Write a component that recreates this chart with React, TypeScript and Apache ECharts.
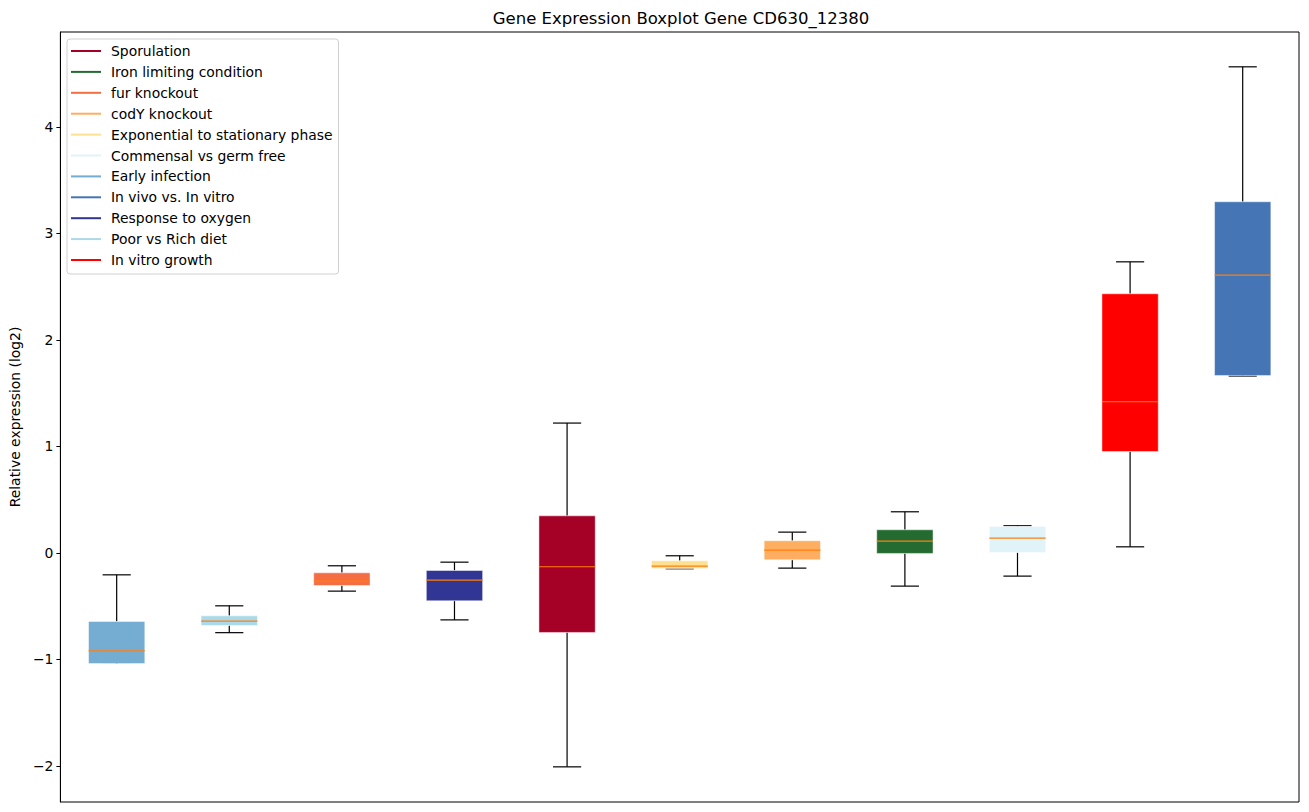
import React, { useEffect, useRef } from "react";
import * as echarts from "echarts";

// Boxes in x order (left to right)
const categories = [
  "Early infection",
  "Poor vs Rich diet",
  "fur knockout",
  "Response to oxygen",
  "Sporulation",
  "Exponential to stationary phase",
  "codY knockout",
  "Iron limiting condition",
  "Commensal vs germ free",
  "In vitro growth",
  "In vivo vs. In vitro",
];
// [lower whisker, Q1, median, Q3, upper whisker]
const lowWhisker = [-1.03, -0.75, -0.36, -0.63, -2.01, -0.15, -0.144, -0.313, -0.219, 0.056, 1.66];
const q1 = [-1.04, -0.682, -0.307, -0.451, -0.748, -0.147, -0.066, -0.006, 0.003, 0.951, 1.665];
const medians = [-0.92, -0.641, -0.266, -0.257, -0.131, -0.125, 0.025, 0.11, 0.138, 1.418, 2.607];
const q3 = [-0.645, -0.592, -0.188, -0.166, 0.347, -0.075, 0.113, 0.216, 0.247, 2.432, 3.296];
const highWhisker = [-0.207, -0.498, -0.122, -0.088, 1.218, -0.028, 0.194, 0.385, 0.254, 2.732, 4.563];
const boxColors = [
  "#74add1", "#abd9e9", "#f46d43", "#313695", "#a50026", "#fee090",
  "#fdae61", "#236b30", "#e0f3f8", "#ff0000", "#4575b4",
];
const legendOrder = [
  "Sporulation",
  "Iron limiting condition",
  "fur knockout",
  "codY knockout",
  "Exponential to stationary phase",
  "Commensal vs germ free",
  "Early infection",
  "In vivo vs. In vitro",
  "Response to oxygen",
  "Poor vs Rich diet",
  "In vitro growth",
];
const yTicks = [-2, -1, 0, 1, 2, 3, 4];

const FONT = "DejaVu Sans";

export default function App() {
  const ref = useRef<HTMLDivElement>(null);
  useEffect(() => {
    document.body.style.margin = "0";
    if (!ref.current) return;
    const chart = echarts.init(ref.current, null, { renderer: "svg" });

    const series = categories.map((name, i) => ({
      type: "custom",
      name,
      itemStyle: { color: boxColors[i] },
      data: [[i + 1, lowWhisker[i], q1[i], medians[i], q3[i], highWhisker[i]]],
      renderItem: (params: any, api: any) => {
        const x = api.value(0);
        const lo = api.coord([x, api.value(1)]);
        const b1 = api.coord([x, api.value(2)]);
        const md = api.coord([x, api.value(3)]);
        const b3 = api.coord([x, api.value(4)]);
        const hi = api.coord([x, api.value(5)]);
        const w = api.size([0.5, 0])[0];
        const cx = lo[0];
        const black = { stroke: "#000", lineWidth: 1.2 };
        return {
          type: "group",
          children: [
            { type: "line", shape: { x1: cx, y1: lo[1], x2: cx, y2: b1[1] }, style: black },
            { type: "line", shape: { x1: cx, y1: b3[1], x2: cx, y2: hi[1] }, style: black },
            { type: "line", shape: { x1: cx - w / 4, y1: lo[1], x2: cx + w / 4, y2: lo[1] }, style: black },
            { type: "line", shape: { x1: cx - w / 4, y1: hi[1], x2: cx + w / 4, y2: hi[1] }, style: black },
            {
              type: "rect",
              shape: { x: cx - w / 2, y: b3[1], width: w, height: b1[1] - b3[1] },
              style: { fill: boxColors[params.seriesIndex], stroke: "rgba(255,255,255,0.6)", lineWidth: 0.8 },
            },
            {
              type: "line",
              shape: { x1: cx - w / 2, y1: md[1], x2: cx + w / 2, y2: md[1] },
              style: { stroke: "#ff7f0e", lineWidth: 1.2 },
            },
          ],
        };
      },
    }));

    chart.setOption({
      animation: false,
      backgroundColor: "#fff",
      title: {
        text: "Gene Expression Boxplot Gene CD630_12380",
        left: 676,
        textAlign: "center",
        top: 5,
        textStyle: { fontFamily: FONT, fontSize: 16.5, fontWeight: "normal", color: "#000" },
      },
      legend: {
        orient: "vertical",
        left: 67,
        top: 39,
        padding: [4, 6, 6, 4],
        itemGap: 4.9,
        itemWidth: 30,
        itemHeight: 2,
        icon: "rect",
        borderColor: "#d0d0d0",
        borderWidth: 1,
        borderRadius: 3,
        backgroundColor: "rgba(255,255,255,0.85)",
        textStyle: { fontFamily: FONT, fontSize: 13.9, color: "#000", lineHeight: 16, padding: [0, 0, 0, 5] },
        data: legendOrder.map((n) => ({ name: n, itemStyle: { color: boxColors[categories.indexOf(n)] } })),
      },
      grid: {
        left: 60,
        right: 10,
        top: 32,
        bottom: 10,
        show: true,
        borderColor: "#000",
        borderWidth: 1,
        backgroundColor: "transparent",
      },
      xAxis: {
        type: "value",
        min: 0.5,
        max: 11.5,
        axisLabel: { show: false },
        axisTick: { show: false },
        axisLine: { show: false },
        splitLine: { show: false },
      },
      yAxis: {
        type: "value",
        min: -2.34,
        max: 4.89,
        name: "Relative expression (log2)",
        nameLocation: "middle",
        nameRotate: 90,
        nameGap: 37,
        nameTextStyle: { fontFamily: FONT, fontSize: 13.9, color: "#000" },
        axisLine: { show: true, lineStyle: { color: "#000" } },
        axisTick: { show: true, length: 4, customValues: yTicks, lineStyle: { color: "#000" } },
        axisLabel: {
          customValues: yTicks,
          margin: 7,
          fontFamily: FONT,
          fontSize: 13.9,
          color: "#000",
          formatter: (v: number) => String(v).replace("-", "\u2212"),
        },
        splitLine: { show: false },
      },
      series,
    });
    return () => chart.dispose();
  }, []);
  return <div ref={ref} style={{ width: 1309, height: 812 }} />;
}
